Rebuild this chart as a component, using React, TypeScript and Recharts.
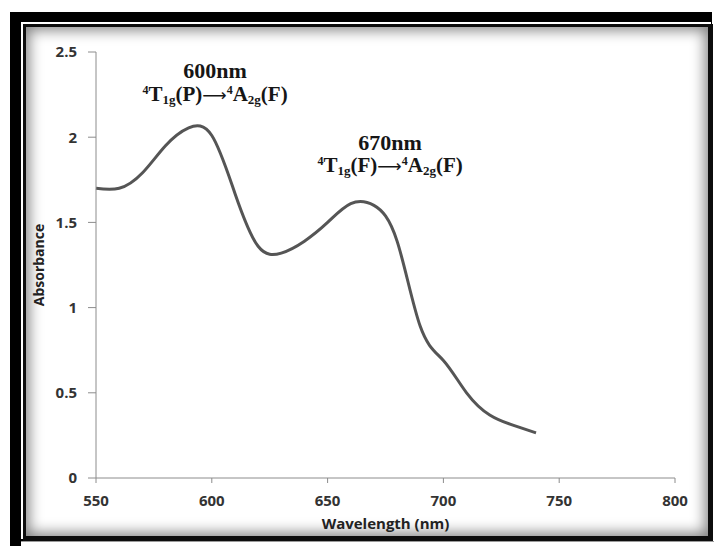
import React from "react";
import { LineChart, Line, XAxis, YAxis, ReferenceDot } from "recharts";

// absorbance spectrum
const wavelengths = [550, 560, 570, 580, 590, 600, 610, 620, 630, 640, 650, 660, 670, 680, 690, 700, 710, 720, 730, 740];
const absorbance = [1.7, 1.7, 1.79, 1.95, 2.055, 2.01, 1.67, 1.36, 1.32, 1.39, 1.5, 1.61, 1.6, 1.39, 0.89, 0.69, 0.5, 0.37, 0.31, 0.265];

const xTicks = [550, 600, 650, 700, 750, 800];
const yTicks = [0, 0.5, 1, 1.5, 2, 2.5];

// peak annotations, anchored in data units
const peakLabels = [
  { x: 601.4, y: 2.39, nm: "600nm", from: "P", to: "F" },
  { x: 677, y: 1.97, nm: "670nm", from: "F", to: "F" },
];

const data = wavelengths.map((nm, i) => ({ nm, abs: absorbance[i] }));

const axisColor = "#8c8c8c";
const tickStyle = { fill: "#333", fontSize: 15, fontWeight: 700, fontFamily: "'Open Sans', sans-serif" };
const serif = "'Liberation Serif', 'Times New Roman', serif";

function PeakLabel({ cx, cy, nm, from, to }: any) {
  if (cx == null || cy == null) return null;
  return (
    <g fill="#161616" fontFamily={serif} fontWeight={700}>
      <text x={cx} y={cy} textAnchor="middle" dominantBaseline="central" fontSize={22}>
        {nm}
      </text>
      <text x={cx} y={cy + 30} textAnchor="middle" fontSize={21}>
        <tspan fontSize={12} dy={-7}>4</tspan>
        <tspan dy={7}>T</tspan>
        <tspan fontSize={13} dy={3}>1g</tspan>
        <tspan dy={-3}>({from})</tspan>
        <tspan fontFamily="'DejaVu Sans', sans-serif" fontWeight={400} fontSize={17}>⟶</tspan>
        <tspan fontSize={12} dy={-7}>4</tspan>
        <tspan dy={7}>A</tspan>
        <tspan fontSize={13} dy={3}>2g</tspan>
        <tspan dy={-3}>({to})</tspan>
      </text>
    </g>
  );
}

export default function App() {
  return (
    <div style={{ position: "absolute", left: 0, top: 0, width: 714, height: 546, background: "#fff", overflow: "hidden" }}>
      {/* picture frame */}
      <div style={{ position: "absolute", left: 10, top: 12, width: 702, height: 534, background: "#000" }} />
      <div
        style={{
          position: "absolute",
          left: 23,
          top: 24,
          width: 690,
          height: 517,
          boxSizing: "border-box",
          border: "3px solid #0d0d0d",
          borderRightWidth: 5,
          borderBottomWidth: 5,
          background: "#fff",
          boxShadow: "inset 0 0 14px 3px rgba(0,0,0,0.5), -2px -2px 0 0 #fff",
        }}
      />
      <div style={{ position: "absolute", left: 21, top: 541, width: 693, height: 5, background: "#fff", borderTop: "1px solid #9a9a9a" }} />

      <div style={{ position: "absolute", left: 0, top: 0 }}>
        <LineChart width={714} height={546} data={data} margin={{ top: 52, right: 39, bottom: 17, left: 36 }}>
          <XAxis
            type="number"
            dataKey="nm"
            domain={[550, 800]}
            ticks={xTicks}
            height={51}
            tick={tickStyle}
            stroke={axisColor}
            tickSize={5}
            tickMargin={12}
            label={{
              value: "Wavelength (nm)",
              position: "insideBottom",
              offset: 0,
              style: { fill: "#222", fontSize: 15, fontWeight: 700, fontFamily: "'Open Sans', sans-serif" },
            }}
          />
          <YAxis
            type="number"
            domain={[0, 2.5]}
            ticks={yTicks}
            width={60}
            tick={tickStyle}
            stroke={axisColor}
            tickSize={8}
            tickMargin={11}
            label={{
              value: "Absorbance",
              angle: -90,
              position: "insideLeft",
              offset: 3,
              style: { textAnchor: "middle", fill: "#222", fontSize: 14, fontWeight: 700, fontFamily: "'Open Sans', sans-serif" },
            }}
          />
          <Line
            type="natural"
            dataKey="abs"
            stroke="#555"
            strokeWidth={3}
            dot={false}
            activeDot={false}
            isAnimationActive={false}
          />
          {peakLabels.map((p) => (
            <ReferenceDot
              key={p.nm}
              x={p.x}
              y={p.y}
              r={0}
              ifOverflow="visible"
              shape={(props: any) => <PeakLabel {...props} nm={p.nm} from={p.from} to={p.to} />}
            />
          ))}
        </LineChart>
      </div>
    </div>
  );
}
